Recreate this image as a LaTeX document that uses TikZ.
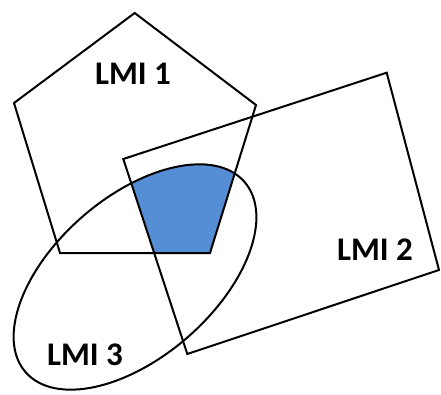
\documentclass[tikz,border=0pt]{standalone}
\usepackage{fontspec}
\setmainfont{Carlito}
\definecolor{regionblue}{RGB}{85,142,213}
\tikzset{
  outline/.style={draw=black, line width=2pt, line join=miter},
  lmilabel/.style={font=\fontsize{33}{38}\selectfont\bfseries, inner sep=0pt}
}
\begin{document}
\begin{tikzpicture}[x=1pt,y=1pt]
\useasboundingbox (0,0) rectangle (441,394);
\coordinate (p1) at (134.7,381);
\coordinate (p2) at (256,289);
\coordinate (p3) at (210,141);
\coordinate (p4) at (60,141);
\coordinate (p5) at (14,291);
\coordinate (r1) at (123.3,235);
\coordinate (r2) at (386.7,321.3);
\coordinate (r3) at (439,124);
\coordinate (r4) at (187.3,40);
\coordinate (ec) at (135,117);
% shaded intersection
\begin{scope}
  \clip (p1) -- (p2) -- (p3) -- (p4) -- (p5) -- cycle;
  \clip (r1) -- (r2) -- (r3) -- (r4) -- cycle;
  \fill[regionblue] (ec) ellipse[x radius=145, y radius=80, rotate=41];
\end{scope}
\draw[outline] (p1) -- (p2) -- (p3) -- (p4) -- (p5) -- cycle;
\draw[outline] (r1) -- (r2) -- (r3) -- (r4) -- cycle;
\draw[outline] (ec) ellipse[x radius=145, y radius=80, rotate=41];
\node[lmilabel] (l1) at (133,320) {LMI 1};
\node[lmilabel] (l2) at (375,144) {LMI 2};
\node[lmilabel] (l3) at (85,39) {LMI 3};
\end{tikzpicture}
\end{document}
